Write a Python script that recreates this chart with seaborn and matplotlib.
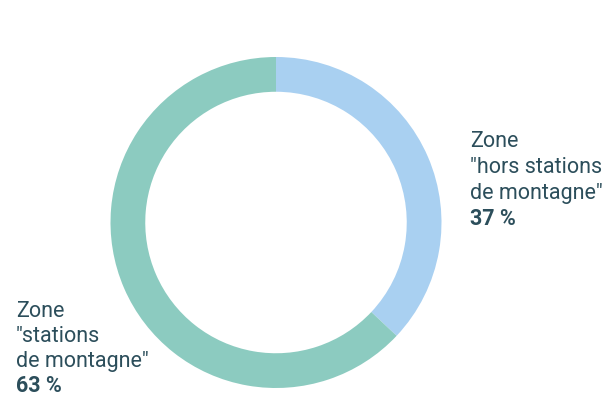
import matplotlib

matplotlib.use("Agg")

import matplotlib.pyplot as plt
import seaborn as sns

ZONES = ['Zone\n"hors stations\nde montagne"', 'Zone\n"stations\nde montagne"']
SHARES = [37, 63]
SHARE_LABELS = ["37 %", "63 %"]
COLORS = ["#a9d0f1", "#8ccbc0"]
TEXT_COLOR = "#2c4e5b"

W, H = 611, 401

sns.set_theme(style="white")
plt.rcParams["font.family"] = ["Roboto", "DejaVu Sans"]

fig = plt.figure(figsize=(W / 100, H / 100), dpi=100)

# donut: center (276, 222.5) px, outer radius ~165.5 px
cx, cy, r = 276, 222.5, 165.5
ax = fig.add_axes([(cx - r) / W, 1 - (cy + r) / H, 2 * r / W, 2 * r / H])
ax.pie(
    SHARES,
    colors=COLORS,
    startangle=90,
    counterclock=False,
    radius=1,
    wedgeprops=dict(width=0.21, linewidth=0),
)
ax.set_xlim(-1, 1)
ax.set_ylim(-1, 1)
ax.set_aspect("equal")
ax.axis("off")


def put_label(x_px, first_baseline_px, text, share, step=26):
    lines = text.split("\n")
    for i, line in enumerate(lines):
        fig.text(x_px / W, 1 - (first_baseline_px + i * step) / H, line,
                 ha="left", va="baseline", fontsize=15.5, color=TEXT_COLOR)
    fig.text(x_px / W, 1 - (first_baseline_px + len(lines) * step) / H, share,
             ha="left", va="baseline", fontsize=15.5, fontweight="bold", color=TEXT_COLOR)


put_label(470, 147, ZONES[0], SHARE_LABELS[0])
put_label(16, 317, ZONES[1], SHARE_LABELS[1], step=25)

fig.savefig("out.png", dpi=100, facecolor="white")
plt.close(fig)
